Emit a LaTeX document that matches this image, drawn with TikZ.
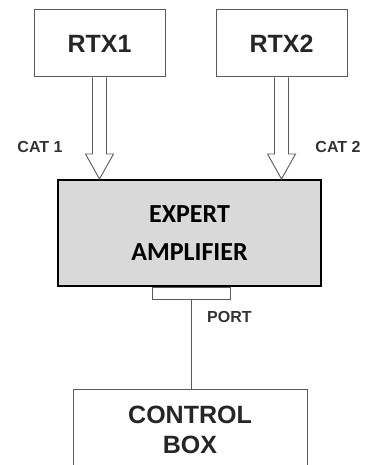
\documentclass[tikz,border=0pt]{standalone}
\usepackage{fontspec}
\setmainfont{Liberation Sans}
\newfontfamily\carlito{Carlito}
\usetikzlibrary{calc,positioning}

\definecolor{boxgray}{HTML}{5A5A5A}
\definecolor{ampfill}{HTML}{D9D9D9}

\tikzset{
  unit/.style={draw=boxgray, line width=1pt, inner sep=0pt, align=center,
    font=\fontsize{25}{30}\selectfont\bfseries, text=black!85},
  hollow/.style={draw=boxgray, line width=0.9pt, line join=miter},
  tag/.style={font=\fontsize{16}{18}\selectfont\bfseries, text=black!80, inner sep=0pt},
}

% hollow arrow from the bottom of #1 down to the top of #2
\newcommand\hollowarrow[2]{%
  \draw[hollow] ($(#1.south)+(-7,0)$) -- ($(#1.south |- #2.north)+(-7,25)$)
    -- ++(-7,0) -- (#1.south |- #2.north) -- ++(14,25) -- ++(-7,0)
    -- ($(#1.south)+(7,0)$);}

\begin{document}
\begin{tikzpicture}[x=1pt,y=1pt]
  \clip (0,0) rectangle (366,-465);

  \node[unit, minimum width=131pt, minimum height=67pt] (rtx1) at (99.5,-43.5) {RTX1};
  \node[unit, minimum width=131pt, minimum height=67pt] (rtx2) at (281.5,-43.5) {RTX2};

  \node[draw=black, line width=2pt, fill=ampfill, minimum width=263pt, minimum height=106pt,
    align=center, font=\carlito\fontsize{26}{38}\selectfont\bfseries] (amp) at (189.5,-233)
    {EXPERT\\AMPLIFIER};

  \node[draw=boxgray, line width=1pt, minimum width=78pt, minimum height=12pt,
    inner sep=0pt, anchor=north] (port) at ([xshift=1.5pt]amp.south) {};

  \node[unit, minimum width=234pt, minimum height=82pt] (ctrl) at (190,-430) {CONTROL\\BOX};

  \hollowarrow{rtx1}{amp}
  \hollowarrow{rtx2}{amp}

  \node[tag] (cat1) at (40,-147) {CAT 1};
  \node[tag] (cat2) at (338,-147) {CAT 2};

  \draw[boxgray, line width=1pt] (port.south) -- (port.south |- ctrl.north);
  \node[tag, anchor=west] (portlbl) at ([xshift=16pt,yshift=-17pt]port.south) {PORT};
\end{tikzpicture}
\end{document}
